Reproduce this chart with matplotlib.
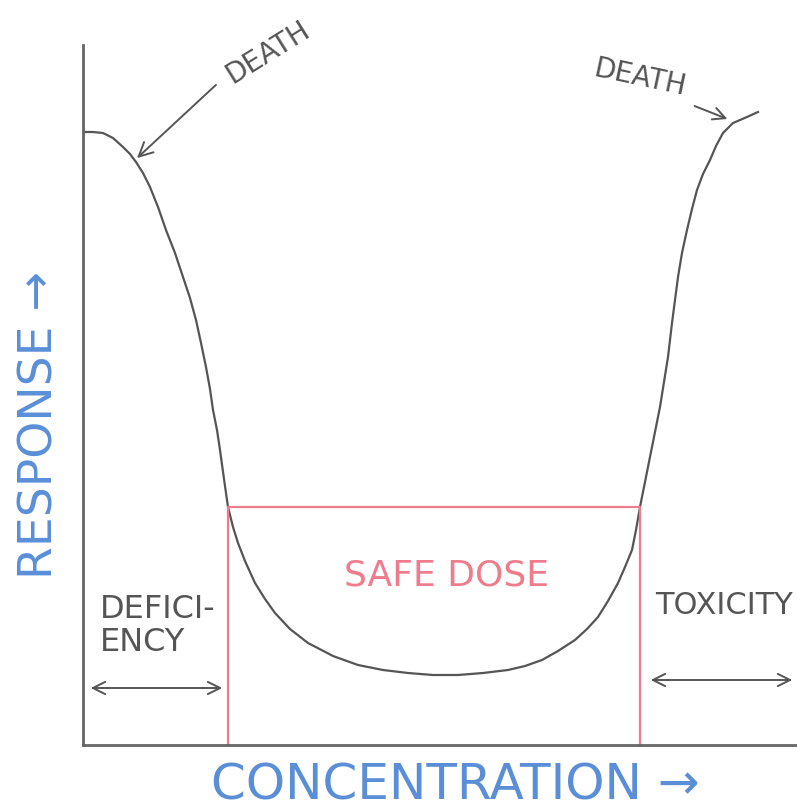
import matplotlib
matplotlib.use("Agg")
import matplotlib.pyplot as plt
import numpy as np

# dose-response curve (arbitrary units)
conc = [0, 10, 20, 30, 40, 47, 53, 60, 67, 75, 83, 92, 100, 107, 113, 118,
        123, 127, 130, 134, 137, 141, 145,
        150, 155, 162, 172, 182, 192, 207, 225, 250, 275, 300, 325, 350, 375,
        400, 425, 442, 459, 475, 492, 504, 515, 525, 535, 542, 549, 553, 557,
        562, 567, 572, 577, 585, 589, 592, 595, 599, 604, 609, 614, 620, 627,
        633, 640, 650, 664, 675]
resp = [613, 613, 612, 607, 598, 591, 583, 572, 558, 538, 515, 492, 468, 447,
        425, 402, 378, 356, 335, 315, 295, 266, 238,
        218, 202, 184, 162, 146, 132, 116, 102, 89, 80, 75, 72, 70, 70,
        72, 75, 79, 85, 94, 105, 116, 128, 144, 162, 178, 195, 215, 238,
        263, 288, 313, 338, 388, 422, 445, 468, 492, 515, 536, 555, 571, 585,
        599, 612, 622, 628, 633]

safe_lo, safe_hi, safe_top = 145, 557, 238

ink = "#555555"
blue = "#5a8fd8"
red = "#ee7c8c"
plt.rcParams['font.family'] = ['DejaVu Sans']

fig = plt.figure(figsize=(7.97, 8.10), dpi=100)
ax = fig.add_axes([83/797, 65/810, 714/797, 700/810])
ax.set_xlim(0, 714)
ax.set_ylim(0, 700)
for s in ["top", "right"]:
    ax.spines[s].set_visible(False)
for s in ["left", "bottom"]:
    ax.spines[s].set_color("#666666")
    ax.spines[s].set_linewidth(2)
ax.set_xticks([])
ax.set_yticks([])

ax.plot(conc, resp, color=ink, lw=1.6, solid_joinstyle="round")

# safe dose box
ax.plot([safe_lo, safe_lo, safe_hi, safe_hi], [0, safe_top, safe_top, 0],
        color=red, lw=1.6)
ax.text(364, 169, "SAFE DOSE", color=red, fontsize=26,
        ha="center", va="center")

# death labels
ax.annotate("", xy=(52, 585), xytext=(135, 662),
            arrowprops=dict(arrowstyle="->", color=ink, lw=1.4,
                            mutation_scale=25))
ax.text(185, 693, "DEATH", color=ink, fontsize=20, rotation=32,
        ha="center", va="center", clip_on=False)
ax.annotate("", xy=(647, 625), xytext=(609, 640),
            arrowprops=dict(arrowstyle="->", color=ink, lw=1.4,
                            mutation_scale=22))
ax.text(557, 667, "DEATH", color=ink, fontsize=20, rotation=-12,
        ha="center", va="center")

# deficiency / toxicity ranges
ax.annotate("", xy=(5, 57), xytext=(142, 57),
            arrowprops=dict(arrowstyle="<->", color=ink, lw=1.4,
                            mutation_scale=22))
ax.text(17, 119, "DEFICI-\nENCY", color=ink, fontsize=23,
        ha="left", va="center", linespacing=1.05)
ax.annotate("", xy=(565, 65), xytext=(712, 65),
            arrowprops=dict(arrowstyle="<->", color=ink, lw=1.4,
                            mutation_scale=22), annotation_clip=False)
ax.text(572, 140, "TOXICITY", color=ink, fontsize=22,
        ha="left", va="center", clip_on=False)

# axis titles
ax.text(372, -40, "CONCENTRATION \u2192", color=blue, fontsize=36,
        ha="center", va="center", clip_on=False)
ax.text(-43, 320, "RESPONSE \u2192", color=blue, fontsize=34,
        rotation=90, ha="center", va="center", clip_on=False)

plt.savefig("out.png", dpi=100)
plt.close()
